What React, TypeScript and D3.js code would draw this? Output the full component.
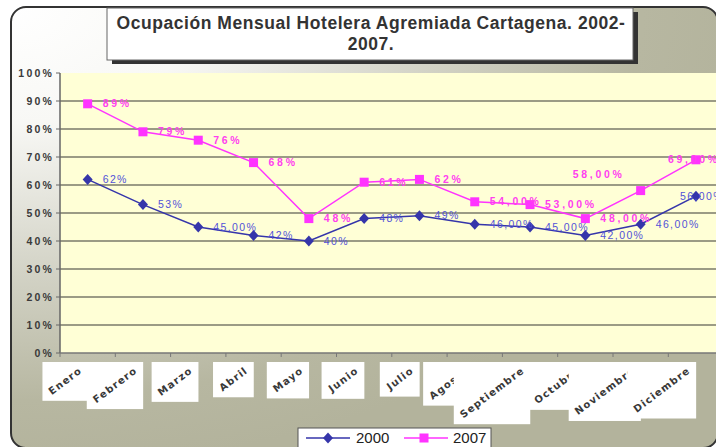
import React, { useLayoutEffect, useRef } from "react";
import * as d3 from "d3";

const months = ["Enero", "Febrero", "Marzo", "Abril", "Mayo", "Junio", "Julio", "Agosto", "Septiembre", "Octubre", "Noviembre", "Diciembre"];
const values2000 = [62, 53, 45, 42, 40, 48, 49, 46, 45, 42, 46, 56];
const values2007 = [89, 79, 76, 68, 48, 61, 62, 54, 53, 48, 58, 69];
const labels2000 = ["62%", "53%", "45,00%", "42%", "40%", "48%", "49%", "46,00%", "45,00%", "42,00%", "46,00%", "56,00%"];
const labels2007 = ["89%", "79%", "76%", "68%", "48%", "61%", "62%", "54,00%", "53,00%", "48,00%", "58,00%", "69,00%"];
const yTicks = [0, 10, 20, 30, 40, 50, 60, 70, 80, 90, 100];
const yTickLabels = ["0%", "10%", "20%", "30%", "40%", "50%", "60%", "70%", "80%", "90%", "100%"];
const seriesNames = ["2000", "2007"];
const titleLines = ["Ocupación Mensual Hotelera Agremiada Cartagena. 2002-", "2007."];

// layout
const W = 716, H = 447;
const PL = 60, PT = 73, PB = 353, BAND = 55.3;
const C2000 = "#3535AA", C2000T = "#5252D8";
const C2007 = "#FF33FF", C2007T = "#FF3FEF";
// label placement (layout only): [dx, dy, anchor]
const pos2000: [number, number, string][] = months.map((_, i) => (i === 11 ? [-16, 0, "start"] : [15, 0, "start"]));
const pos2007: [number, number, string][] = months.map((_, i) =>
  i === 10 ? [-42, -16, "middle"] : i === 11 ? [-2, 0, "middle"] : [15, 0, "start"]
);

export default function App() {
  const xLabRef = useRef<SVGGElement>(null);
  const x = d3.scaleBand<string>().domain(months).range([PL, PL + BAND * months.length]);
  const y = d3.scaleLinear().domain([0, 100]).range([PB, PT]);
  const cx = (m: string) => (x(m) as number) + x.bandwidth() / 2;
  const line = d3.line<number>().x((_, i) => cx(months[i])).y((v) => y(v));

  useLayoutEffect(() => {
    const g = d3.select(xLabRef.current);
    g.selectAll("*").remove();
    months.forEach((m) => {
      const item = g.append("g");
      const rect = item.append("rect").attr("fill", "#ffffff");
      const tg = item.append("g");
      tg.append("text")
        .attr("transform", `translate(${cx(m) - 5},${372}) rotate(-37)`)
        .attr("text-anchor", "end")
        .attr("font-family", "DejaVu Sans")
        .attr("font-weight", "900")
        .attr("font-size", 10)
        .attr("letter-spacing", 1.2)
        .attr("fill", "#383838")
        .text(m);
      const bb = (tg.node() as SVGGElement).getBBox();
      const top = 362;
      rect
        .attr("x", bb.x - 4)
        .attr("y", top)
        .attr("width", bb.width + 8)
        .attr("height", bb.y + bb.height + 4 - top);
    });
  }, []);

  const diamond = "M0,-5.5L5,0L0,5.5L-5,0Z";

  return (
    <svg width={W} height={H} style={{ position: "absolute", left: 0, top: 0, fontFamily: "Liberation Sans, Arial, sans-serif" }}>
      <defs>
        <radialGradient id="bg" cx="0" cy="0" r="1.05" gradientUnits="objectBoundingBox">
          <stop offset="0" stopColor="#ffffff" />
          <stop offset="0.25" stopColor="#f8f8f5" />
          <stop offset="0.58" stopColor="#d2d2c5" />
          <stop offset="0.85" stopColor="#b7b7a1" />
          <stop offset="1" stopColor="#b3b39c" />
        </radialGradient>
      </defs>
      <rect x={0} y={0} width={W} height={H} fill="#ffffff" />
      <rect x={11} y={7} width={707} height={441} rx={15} ry={15} fill="url(#bg)" stroke="#333333" strokeWidth={2} />

      {/* plot area */}
      <rect x={PL} y={PT} width={BAND * months.length} height={PB - PT} fill="#FFFFD6" />
      {yTicks.filter((t) => t > 0 && t < 100).map((t) => (
        <line key={t} x1={PL} x2={PL + BAND * months.length} y1={y(t)} y2={y(t)} stroke="#7a7a6a" strokeWidth={1.4} />
      ))}
      {/* axes */}
      <line x1={PL} x2={PL} y1={PT} y2={PB} stroke="#666666" strokeWidth={1.5} />
      <line x1={PL} x2={PL + BAND * months.length} y1={PB} y2={PB} stroke="#777777" strokeWidth={1.5} />
      {yTicks.map((t) => (
        <line key={"yt" + t} x1={PL - 4} x2={PL} y1={y(t)} y2={y(t)} stroke="#666666" strokeWidth={1} />
      ))}
      {months.map((m) => (
        <line key={"xt" + m} x1={x(m) as number} x2={x(m) as number} y1={PB} y2={PB + 4} stroke="#777777" strokeWidth={1} />
      ))}
      {yTicks.map((t, i) => (
        <text key={"yl" + t} x={54} y={y(t)} dy="0.35em" textAnchor="end" fontSize={10.5} fontWeight="bold" letterSpacing={2.2} fill="#3a3a3a">
          {yTickLabels[i]}
        </text>
      ))}

      {/* x labels */}
      <g ref={xLabRef} />

      {/* series 2000 */}
      <path d={line(values2000) as string} fill="none" stroke={C2000} strokeWidth={1.5} />
      {values2000.map((v, i) => (
        <path key={"d" + i} d={diamond} transform={`translate(${cx(months[i])},${y(v)})`} fill={C2000} />
      ))}
      {/* series 2007 */}
      <path d={line(values2007) as string} fill="none" stroke={C2007} strokeWidth={1.5} />
      {values2007.map((v, i) => (
        <rect key={"s" + i} x={cx(months[i]) - 4.5} y={y(v) - 4.5} width={9} height={9} fill={C2007} />
      ))}
      {/* data labels */}
      {values2000.map((v, i) => (
        <text key={"l0" + i} x={cx(months[i]) + pos2000[i][0]} y={y(v) + pos2000[i][1]} dy="0.35em" textAnchor={pos2000[i][2]}
          fontSize={10.5} letterSpacing={1.4} fill={C2000T}>
          {labels2000[i]}
        </text>
      ))}
      {values2007.map((v, i) => (
        <text key={"l7" + i} x={cx(months[i]) + pos2007[i][0]} y={y(v) + pos2007[i][1]} dy="0.35em" textAnchor={pos2007[i][2]}
          fontSize={10.5} fontWeight="bold" letterSpacing={2.7} fill={C2007T}>
          {labels2007[i]}
        </text>
      ))}

      {/* title */}
      <rect x={112} y={12} width={526} height={52} fill="#333333" />
      <rect x={107} y={8} width={526} height={52} fill="#ffffff" stroke="#666666" strokeWidth={1} />
      {titleLines.map((t, i) => (
        <text key={"t" + i} x={371} y={29 + i * 21} textAnchor="middle" fontSize={17.5} fontWeight="bold" letterSpacing={0.55} fill="#333333">
          {t}
        </text>
      ))}

      {/* legend */}
      <rect x={298} y={428} width={193} height={24} fill="#ffffff" stroke="#555555" strokeWidth={1} />
      <line x1={306} x2={350} y1={438} y2={438} stroke={C2000} strokeWidth={1.5} />
      <path d={diamond} transform="translate(328,438)" fill={C2000} />
      <text x={356} y={438} dy="0.36em" fontSize={15} fill="#222222">{seriesNames[0]}</text>
      <line x1={404} x2={448} y1={438} y2={438} stroke={C2007} strokeWidth={1.5} />
      <rect x={419.5} y={433.5} width={9} height={9} fill={C2007} />
      <text x={453} y={438} dy="0.36em" fontSize={15} fill="#222222">{seriesNames[1]}</text>
    </svg>
  );
}
